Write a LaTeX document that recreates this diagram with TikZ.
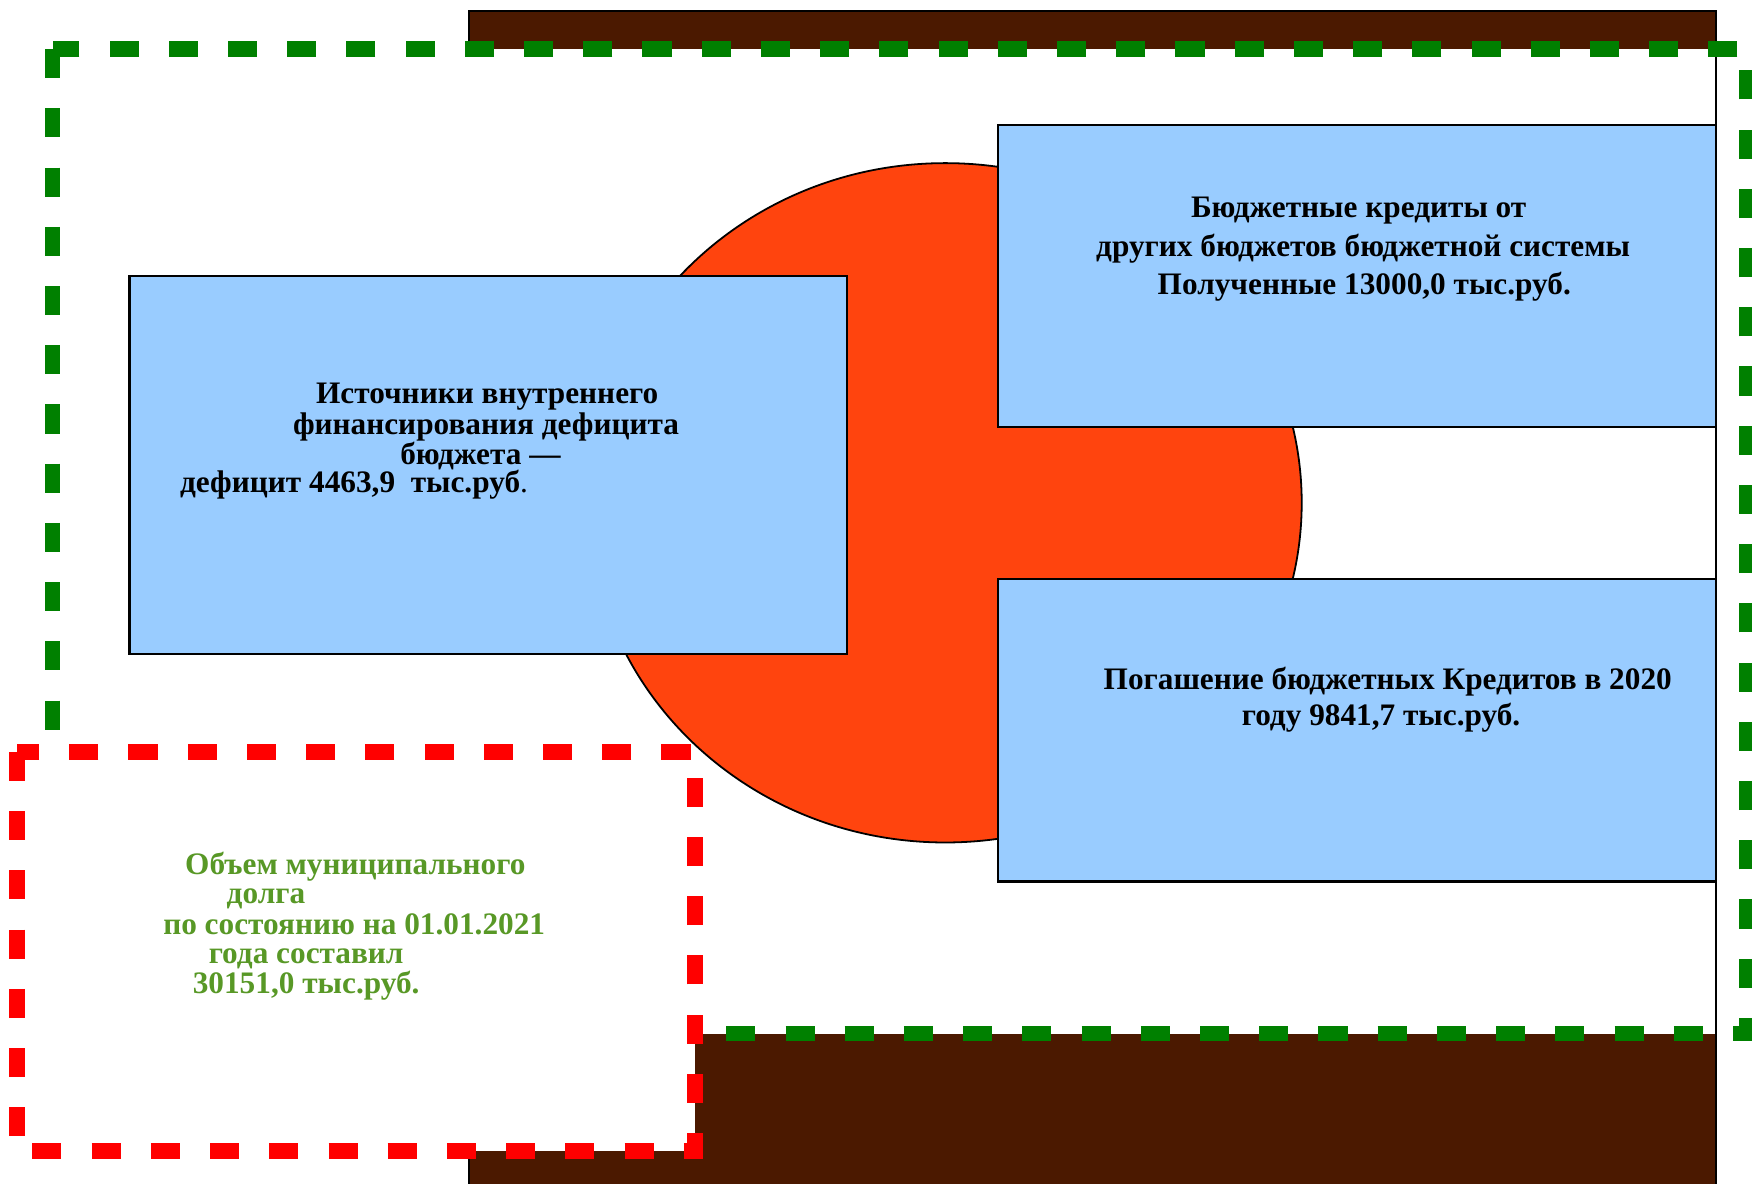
\documentclass[tikz,border=0pt]{standalone}
\usepackage{fontspec}
\setmainfont{Liberation Serif}
\definecolor{brownbg}{RGB}{75,25,0}
\definecolor{boxblue}{RGB}{153,204,255}
\definecolor{discred}{RGB}{255,68,14}
\definecolor{dashgreen}{RGB}{0,128,0}
\definecolor{dashred}{RGB}{255,0,0}
\definecolor{textgreen}{RGB}{88,152,38}
\pgfdeclareradialshading{bgshade}{\pgfpoint{0bp}{0bp}}{color(0bp)=(white); color(46bp)=(white); color(72bp)=(black!13)}
\tikzset{
  bluebox/.style={draw=black, line width=2pt, fill=boxblue, inner sep=0pt},
  greendash/.style={draw=dashgreen, line width=14pt, dash pattern=on 26pt off 27pt},
  reddash/.style={draw=dashred, line width=14pt, dash pattern=on 26pt off 27pt},
  btxt/.style={inner sep=0pt, anchor=base, font=\bfseries\fontsize{28}{28}\selectfont},
  gtxt/.style={btxt, text=textgreen},
}
\begin{document}
\begin{tikzpicture}[x=1pt,y=-1pt]
\useasboundingbox (0,0) rectangle (1568,1059);
\shade[shading=bgshade] (0,0) rectangle (1568,1059);
% brown band with its border
\draw[fill=brownbg, line width=2pt] (420,1075) -- (420,10) -- (1536,10) -- (1536,1075);
% white panel
\fill[white] (47,44) rectangle (1536,925);
\draw[black, line width=2pt] (1536,10) -- (1536,1075);
% disc
\draw[fill=discred, line width=1.6pt] (846,450) ellipse [x radius=319pt, y radius=304pt];
% boxes
\node[bluebox, minimum width=642pt, minimum height=338pt] (src) at (437,416) {};
\node[bluebox, minimum width=643pt, minimum height=270pt] (cred) at (1214.5,247) {};
\node[bluebox, minimum width=643pt, minimum height=271pt] (repay) at (1214.5,653.5) {};
% green dashed frame
\draw[greendash] (47,44) rectangle (1563,925);
% red dashed box
\fill[white] (15,673) rectangle (622,1030);
\draw[reddash] (15,673) rectangle (622,1030);
% texts
\node[btxt] (s1) at (436,361) {Источники внутреннего};
\node[btxt] (s2) at (435,389) {финансирования дефицита};
\node[btxt] (s3) at (430,416) {бюджета —};
\node[btxt, anchor=base west] (s4) at (161,441) {дефицит 4463,9\ \ тыс.руб{\mdseries .}};
\node[btxt] (c1) at (1216,195) {Бюджетные кредиты от};
\node[btxt] (c2) at (1220,230) {других бюджетов бюджетной системы};
\node[btxt] (c3) at (1221,264) {Полученные 13000,0 тыс.руб.};
\node[btxt] (r1) at (1242,617) {Погашение бюджетных Кредитов в 2020};
\node[btxt] (r2) at (1236,649) {году 9841,7 тыс.руб.};
\node[gtxt] (d1) at (318,783) {Объем муниципального};
\node[gtxt] (d2) at (238,809) {долга};
\node[gtxt] (d3) at (317,836) {по состоянию на 01.01.2021};
\node[gtxt] (d4) at (274,862) {года составил};
\node[gtxt] (d5) at (274,889) {30151,0 тыс.руб.};
\end{tikzpicture}
\end{document}
